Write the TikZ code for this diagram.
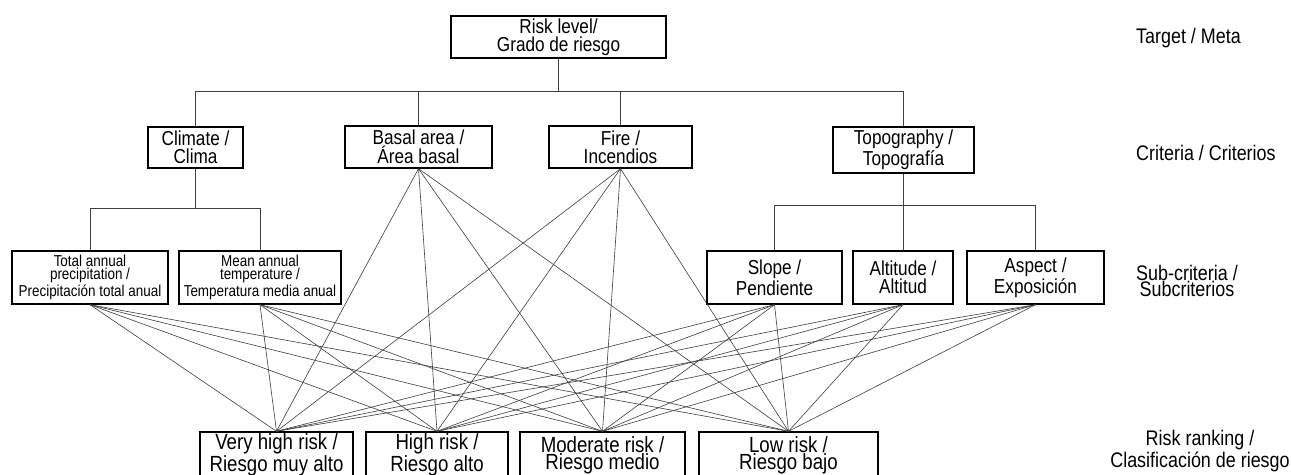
\documentclass[tikz,border=0pt]{standalone}
\usepackage{fontspec}
\setmainfont{Liberation Sans}[FakeStretch=0.85]
\usepackage{tikz}

\tikzset{
  box/.style={draw,line width=0.8pt,inner sep=0pt,align=center},
  crit/.style={box,font=\fontsize{11.5}{10}\selectfont},
  sub/.style={box,minimum height=1.06cm,font=\fontsize{11.5}{10.4}\selectfont},
  subsmall/.style={box,minimum height=1.06cm,font=\fontsize{9}{7.3}\selectfont},
  rank/.style={box,minimum height=0.92cm,font=\fontsize{12.5}{9.6}\selectfont},
  level/.style={align=center,font=\fontsize{12}{9.6}\selectfont},
  link/.style={black!75,line width=0.35pt},
}

\begin{document}
\begin{tikzpicture}[x=0.02cm,y=-0.02cm]
\useasboundingbox (0,0) rectangle (1291,474);
% target
\node[crit,minimum width=4.3cm,minimum height=0.84cm] (risk) at (558.5,37) {Risk level/\\Grado de riesgo};
% criteria
\node[crit,minimum width=1.9cm,minimum height=0.82cm] (climate) at (195.5,147.5) {Climate /\\Clima};
\node[crit,minimum width=2.94cm,minimum height=0.84cm] (basal) at (418.5,147) {Basal area /\\Área basal};
\node[crit,minimum width=2.86cm,minimum height=0.84cm] (fire) at (620.5,147) {Fire /\\Incendios};
\node[crit,minimum width=2.82cm,minimum height=0.92cm] (topo) at (903.5,150) {Topography /\\Topografía};
% sub-criteria
\node[subsmall,minimum width=3.12cm] (precip) at (90,277.5) {Total annual\\precipitation /\\Precipitación total anual};
\node[subsmall,minimum width=3.24cm] (temp) at (260,277.5) {Mean annual\\temperature /\\Temperatura media anual};
\node[sub,minimum width=2.7cm] (slope) at (774.5,277.5) {Slope /\\Pendiente};
\node[sub,minimum width=2cm] (alt) at (903,277.5) {Altitude /\\Altitud};
\node[sub,minimum width=2.74cm] (aspect) at (1035.5,277.5) {Aspect /\\Exposición};
% risk ranking
\node[rank,minimum width=3.06cm] (vhigh) at (276.5,455) {Very high risk /\\Riesgo muy alto};
\node[rank,minimum width=2.84cm] (high) at (437,455) {High risk /\\Riesgo alto};
\node[rank,minimum width=3.3cm] (moderate) at (602.5,455) {Moderate risk /\\Riesgo medio};
\node[rank,minimum width=3.58cm] (low) at (788.5,455) {Low risk /\\Riesgo bajo};
% levels
\node[level,anchor=west] (lvltarget) at (1130,38) {Target / Meta};
\node[level,anchor=west] (lvlcrit) at (1130,153) {Criteria / Criterios};
\node[level] (lvlsub) at (1187,281) {Sub-criteria /\\Subcriterios};
\node[level] (lvlrank) at (1200,451) {Risk ranking /\\Clasificación de riesgo};

\foreach \c in {climate,basal,fire,topo}
  \draw[link] (risk.south) -- ++(0,33) -| (\c.north);
\foreach \c in {precip,temp}
  \draw[link] (climate.south) -- ++(0,40) -| (\c.north);
\foreach \c in {slope,alt,aspect}
  \draw[link] (topo.south) -- ++(0,32) -| (\c.north);
\foreach \s in {precip,temp,basal,fire,slope,alt,aspect}
  \foreach \r in {vhigh,high,moderate,low}
    \draw[link] (\s.south) -- (\r.north);
\end{tikzpicture}
\end{document}
